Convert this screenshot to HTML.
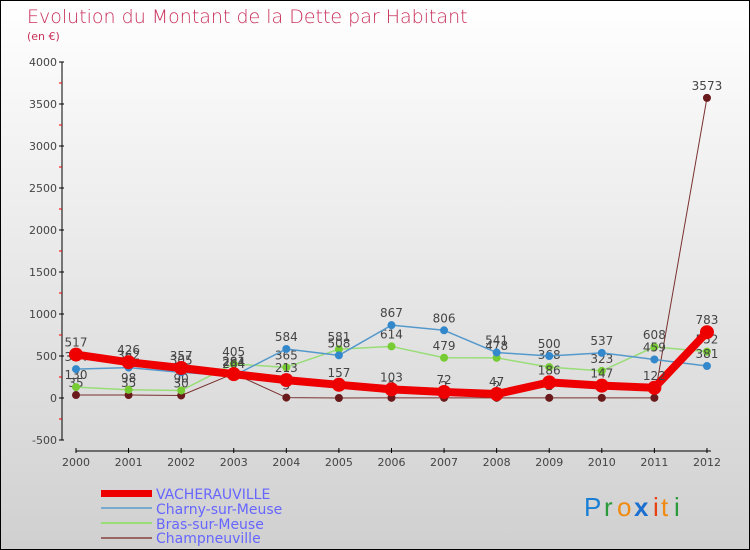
<!DOCTYPE html>
<html><head><meta charset="utf-8"><style>
body{margin:0}
#c{position:relative;width:748px;height:548px;border:1px solid #000;background:linear-gradient(#ffffff,#d0d0d0);overflow:hidden;font-family:"DejaVu Sans","Liberation Sans",sans-serif}
</style></head><body>
<div id="c">
<svg id="s" width="748" height="548">
<text x="26" y="22" font-size="19" fill="#c8305a" font-weight="200">Evolution du Montant de la Dette par Habitant</text>
<text x="26" y="39" font-size="11" fill="#c8305a">(en €)</text>
<g id="axes"></g><g id="series"></g>
<g>
<rect x="100" y="489" width="51" height="7" fill="#e00"/>
<text x="155" y="498" font-size="14" fill="#6666ff">VACHERAUVILLE</text>
<rect x="100" y="506" width="51" height="2" fill="#77aacc"/>
<text x="155" y="513" font-size="14" fill="#6666ff">Charny-sur-Meuse</text>
<rect x="100" y="521" width="51" height="2" fill="#99dd77"/>
<text x="155" y="528" font-size="14" fill="#6666ff">Bras-sur-Meuse</text>
<rect x="100" y="536" width="51" height="2" fill="#996666"/>
<text x="155" y="542" font-size="14" fill="#6666ff">Champneuville</text>
</g>
<g font-size="26" font-family="Liberation Sans,sans-serif">
<text x="583" y="515" fill="#1a7fd4">P</text><text x="603" y="515" fill="#2a9a3a">r</text><text x="616" y="515" fill="#f08a10">o</text><text x="633" y="515" fill="#1a6fd0" font-weight="bold">x</text><text x="652" y="515" fill="#e84010">i</text><text x="660" y="515" fill="#f08a10">t</text><text x="673" y="515" fill="#2a9a3a">i</text>
</g>
</svg></div>
<script>
const years=["2000","2001","2002","2003","2004","2005","2006","2007","2008","2009","2010","2011","2012"];
const yTicks=[4000,3500,3000,2500,2000,1500,1000,500,0,-500];
const vacherauville=[517,426,357,284,213,157,103,72,47,186,147,122,783];
const charny=[344,362,305,264,584,508,867,806,541,500,537,459,381];
const bras=[130,98,90,405,365,581,614,479,478,368,323,608,552];
const champneuville=[35,35,30,291,5,0,2,2,2,2,2,2,3573];
const NS="http://www.w3.org/2000/svg";
const X=i=>75+i*52.58, Y=v=>397-v*0.084;
function el(t,a,p){const e=document.createElementNS(NS,t);for(const k in a)e.setAttribute(k,a[k]);p.appendChild(e);return e;}
const ax=document.getElementById('axes'), sr=document.getElementById('series');
let l=el('line',{x1:61,y1:Y(4000),x2:61,y2:Y(-500),stroke:'#000'},ax);


yTicks.forEach(v=>{
 el('line',{x1:58,x2:63,y1:Y(v),y2:Y(v),stroke:'#000'},ax);
 if(v>-500)el('line',{x1:58,x2:61,y1:Y(v-250),y2:Y(v-250),stroke:'#e00'},ax);
 const t=el('text',{x:56,y:Y(v)+4,'font-size':11,fill:'#444','text-anchor':'end'},ax);t.textContent=v;
 
 
});
l=el('line',{x1:X(0),y1:450,x2:X(12)+4,y2:450,stroke:'#000'},ax);


years.forEach((y,i)=>{
 el('line',{x1:X(i),x2:X(i),y1:447,y2:452,stroke:'#000'},ax);
 const t=el('text',{x:X(i),y:465,'font-size':11,fill:'#444','text-anchor':'middle'},ax);t.textContent=y;
 
 
});
function series(d,col,w,r,name,dot){
 const g=el('g',{},sr);
 
 
 el('polyline',{points:d.map((v,i)=>X(i)+','+Y(v)).join(' '),fill:'none',stroke:col,'stroke-width':w,'stroke-linejoin':'round'},g);
 d.forEach((v,i)=>{
  const c=el('circle',{cx:X(i),cy:Y(v),r:r,fill:dot},g);
  
  
  const t=el('text',{x:X(i),y:Y(v)-8,'font-size':12,fill:'#444','text-anchor':'middle'},g);t.textContent=v;
  
  
 });
}
series(champneuville,'#7a3030',1,4,'champneuville','#6a1a1a');
series(bras,'#99dd77',1.5,4,'bras','#77cc33');
series(charny,'#5599cc',1.5,4,'charny','#3388cc');
series(vacherauville,'#ee0000',8,7,'vacherauville','#ee0000');
</script>
</body></html>
